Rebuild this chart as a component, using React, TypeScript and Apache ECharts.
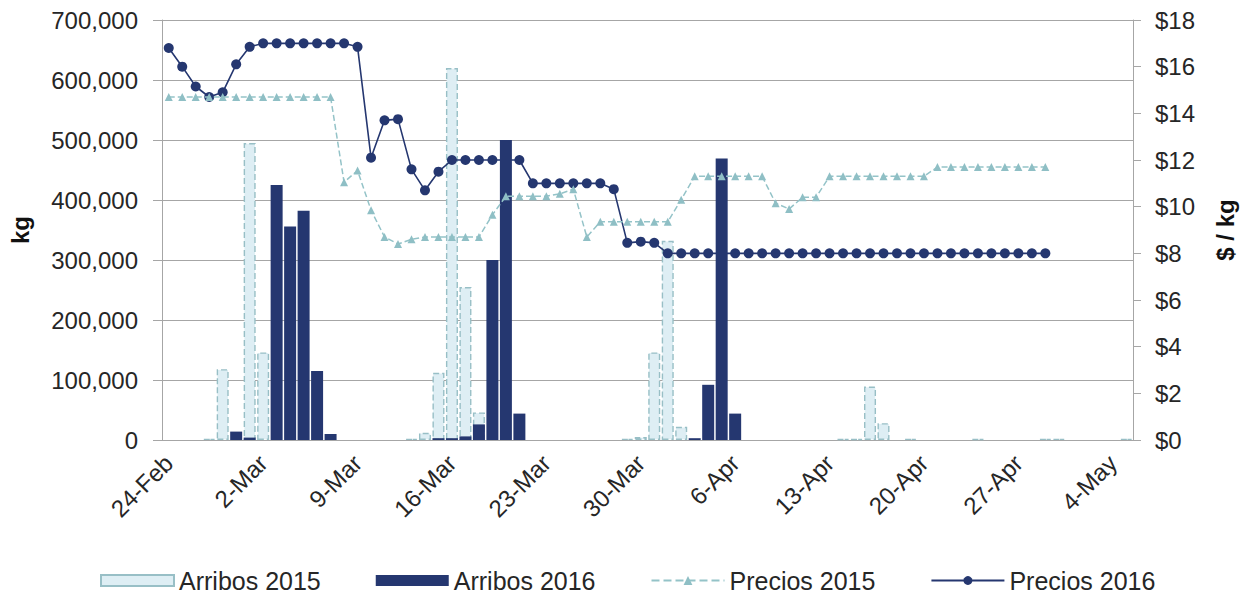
import React, { useEffect, useRef } from "react";
import * as echarts from "echarts";

const dates = [
  "24-Feb", "25-Feb", "26-Feb", "27-Feb", "28-Feb", "29-Feb",
  "1-Mar", "2-Mar", "3-Mar", "4-Mar", "5-Mar", "6-Mar", "7-Mar", "8-Mar", "9-Mar", "10-Mar",
  "11-Mar", "12-Mar", "13-Mar", "14-Mar", "15-Mar", "16-Mar", "17-Mar", "18-Mar", "19-Mar", "20-Mar",
  "21-Mar", "22-Mar", "23-Mar", "24-Mar", "25-Mar", "26-Mar", "27-Mar", "28-Mar", "29-Mar", "30-Mar", "31-Mar",
  "1-Apr", "2-Apr", "3-Apr", "4-Apr", "5-Apr", "6-Apr", "7-Apr", "8-Apr", "9-Apr", "10-Apr",
  "11-Apr", "12-Apr", "13-Apr", "14-Apr", "15-Apr", "16-Apr", "17-Apr", "18-Apr", "19-Apr", "20-Apr",
  "21-Apr", "22-Apr", "23-Apr", "24-Apr", "25-Apr", "26-Apr", "27-Apr", "28-Apr", "29-Apr", "30-Apr",
  "1-May", "2-May", "3-May", "4-May", "5-May",
];

const arribos2015 = [
  null, null, null, 2000, 118000, null, 495000, 146000, null, null,
  null, null, null, null, null, null, null, null, 2000, 12000,
  112000, 620000, 255000, 46000, null, null, null, null, null, null,
  null, null, null, null, 2000, 5000, 146000, 332000, 22000, null,
  null, null, null, null, null, null, null, null, null, null,
  1500, 1500, 89000, 28000, null, 2000, null, null, null, null,
  1500, null, null, null, null, 2000, 2000, null, null, null,
  null, 2000,
];

const arribos2016 = [
  null, null, null, null, null, 14000, 4000, null, 425000, 356000,
  382000, 115000, 10000, null, null, null, null, null, null, null,
  3000, 3000, 6000, 26000, 300000, 500000, 44000, null, null, null,
  null, null, null, null, null, null, null, null, null, 3000,
  92000, 469000, 44000, null, null, null, null, null, null, null,
  null, null, null, null, null, null, null, null, null, null,
  null, null, null, null, null, null, null, null, null, null,
  null, null,
];

const precios2015 = [
  14.7, 14.7, 14.7, 14.7, 14.7, 14.7, 14.7, 14.7, 14.7, 14.7,
  14.7, 14.7, 14.7, 11.05, 11.55, 9.85, 8.7, 8.4, 8.6, 8.7,
  8.7, 8.7, 8.7, 8.7, 9.65, 10.45, 10.45, 10.45, 10.45, 10.55,
  10.75, 8.7, 9.35, 9.35, 9.35, 9.35, 9.35, 9.35, 10.3, 11.3,
  11.3, 11.3, 11.3, 11.3, 11.3, 10.15, 9.9, 10.4, 10.4, 11.3,
  11.3, 11.3, 11.3, 11.3, 11.3, 11.3, 11.3, 11.7, 11.7, 11.7,
  11.7, 11.7, 11.7, 11.7, 11.7, 11.7, null, null, null, null,
  null, null,
];

const precios2016 = [
  16.8, 16.0, 15.15, 14.7, 14.9, 16.1, 16.85, 17, 17, 17,
  17, 17, 17, 17, 16.85, 12.1, 13.7, 13.75, 11.6, 10.7,
  11.5, 12, 12, 12, 12, 12, 12, 11, 11, 11,
  11, 11, 11, 10.75, 8.45, 8.5, 8.45, 8, 8, 8,
  8, 8, 8, 8, 8, 8, 8, 8, 8, 8,
  8, 8, 8, 8, 8, 8, 8, 8, 8, 8,
  8, 8, 8, 8, 8, 8, null, null, null, null,
  null, null,
];

const legendNames = ["Arribos 2015", "Arribos 2016", "Precios 2015", "Precios 2016"];

const NAVY = "#253770";
const LIGHT_FILL = "#deeef4";
const LIGHT_BORDER = "#98bfc6";
const TEAL = "#94c3c8";
const GRID = "#a6a6a6";
const TEXT = "#262626";
const FONT = "'Liberation Sans', Arial, sans-serif";

export default function App() {
  const ref = useRef<HTMLDivElement>(null);

  useEffect(() => {
    if (!ref.current) return;
    const chart = echarts.init(ref.current, null, { renderer: "svg" });
    chart.setOption({
      animation: false,
      backgroundColor: "#ffffff",
      textStyle: { fontFamily: FONT },
      grid: { left: 161, right: 113, top: 20, bottom: 157 },
      legend: {
        data: [
          { name: legendNames[0], icon: "rect" },
          { name: legendNames[1], icon: "rect" },
          { name: legendNames[2] },
          { name: legendNames[3] },
        ],
        left: 100,
        top: 568,
        padding: 0,
        itemWidth: 73,
        itemHeight: 11,
        itemGap: 55,
        textStyle: { fontSize: 25, color: TEXT, fontFamily: FONT },
      },
      xAxis: {
        type: "category",
        data: dates,
        boundaryGap: true,
        axisLine: { lineStyle: { color: GRID } },
        axisTick: { interval: 6, length: 8, lineStyle: { color: GRID } },
        axisLabel: {
          interval: 6,
          rotate: 45,
          fontSize: 24,
          color: TEXT,
          margin: 19,
          fontFamily: FONT,
        },
      },
      yAxis: [
        {
          type: "value",
          min: 0,
          max: 700000,
          interval: 100000,
          name: "kg",
          nameLocation: "middle",
          nameGap: 130,
          nameRotate: 90,
          nameTextStyle: { fontWeight: "bold", fontSize: 24, color: "#111", fontFamily: FONT },
          axisLine: { show: true, lineStyle: { color: GRID } },
          axisTick: { show: true, length: 9, lineStyle: { color: GRID } },
          axisLabel: {
            fontSize: 24,
            color: TEXT,
            margin: 24,
            fontFamily: FONT,
            formatter: (v: number) => v.toLocaleString("en-US"),
          },
          splitLine: { show: true, lineStyle: { color: GRID, width: 1 } },
        },
        {
          type: "value",
          position: "right",
          min: 0,
          max: 18,
          interval: 2,
          name: "$ / kg",
          nameLocation: "middle",
          nameGap: 80,
          nameRotate: 90,
          nameTextStyle: { fontWeight: "bold", fontSize: 24, color: "#111", fontFamily: FONT },
          axisLine: { show: true, lineStyle: { color: GRID } },
          axisTick: { show: true, length: 8, lineStyle: { color: GRID } },
          axisLabel: {
            fontSize: 24,
            color: TEXT,
            margin: 22,
            fontFamily: FONT,
            formatter: (v: number) => "$" + v,
          },
          splitLine: { show: false },
        },
      ],
      series: [
        {
          name: "Arribos 2015",
          type: "bar",
          yAxisIndex: 0,
          data: arribos2015,
          barWidth: 12,
          barGap: "-100%",
          z: 1,
          itemStyle: {
            color: LIGHT_FILL,
            borderColor: LIGHT_BORDER,
            borderWidth: 1.4,
            borderType: [6, 3],
          },
        },
        {
          name: "Precios 2016",
          type: "line",
          yAxisIndex: 1,
          data: precios2016,
          symbol: "circle",
          symbolSize: 10,
          showAllSymbol: true,
          z: 2,
          lineStyle: { color: NAVY, width: 1.6 },
          itemStyle: { color: NAVY },
        },
        {
          name: "Arribos 2016",
          type: "bar",
          yAxisIndex: 0,
          data: arribos2016,
          barWidth: 12,
          barGap: "-100%",
          z: 3,
          itemStyle: { color: NAVY },
        },
        {
          name: "Precios 2015",
          type: "line",
          yAxisIndex: 1,
          data: precios2015,
          symbol: "triangle",
          symbolSize: 8,
          showAllSymbol: true,
          z: 4,
          lineStyle: { color: TEAL, width: 1.5, type: "dashed" },
          itemStyle: { color: "#8fbfc5" },
        },
      ],
    });
    return () => chart.dispose();
  }, []);

  return (
    <div
      ref={ref}
      style={{ position: "fixed", left: 0, top: 0, width: 1246, height: 597, background: "#fff" }}
    />
  );
}
